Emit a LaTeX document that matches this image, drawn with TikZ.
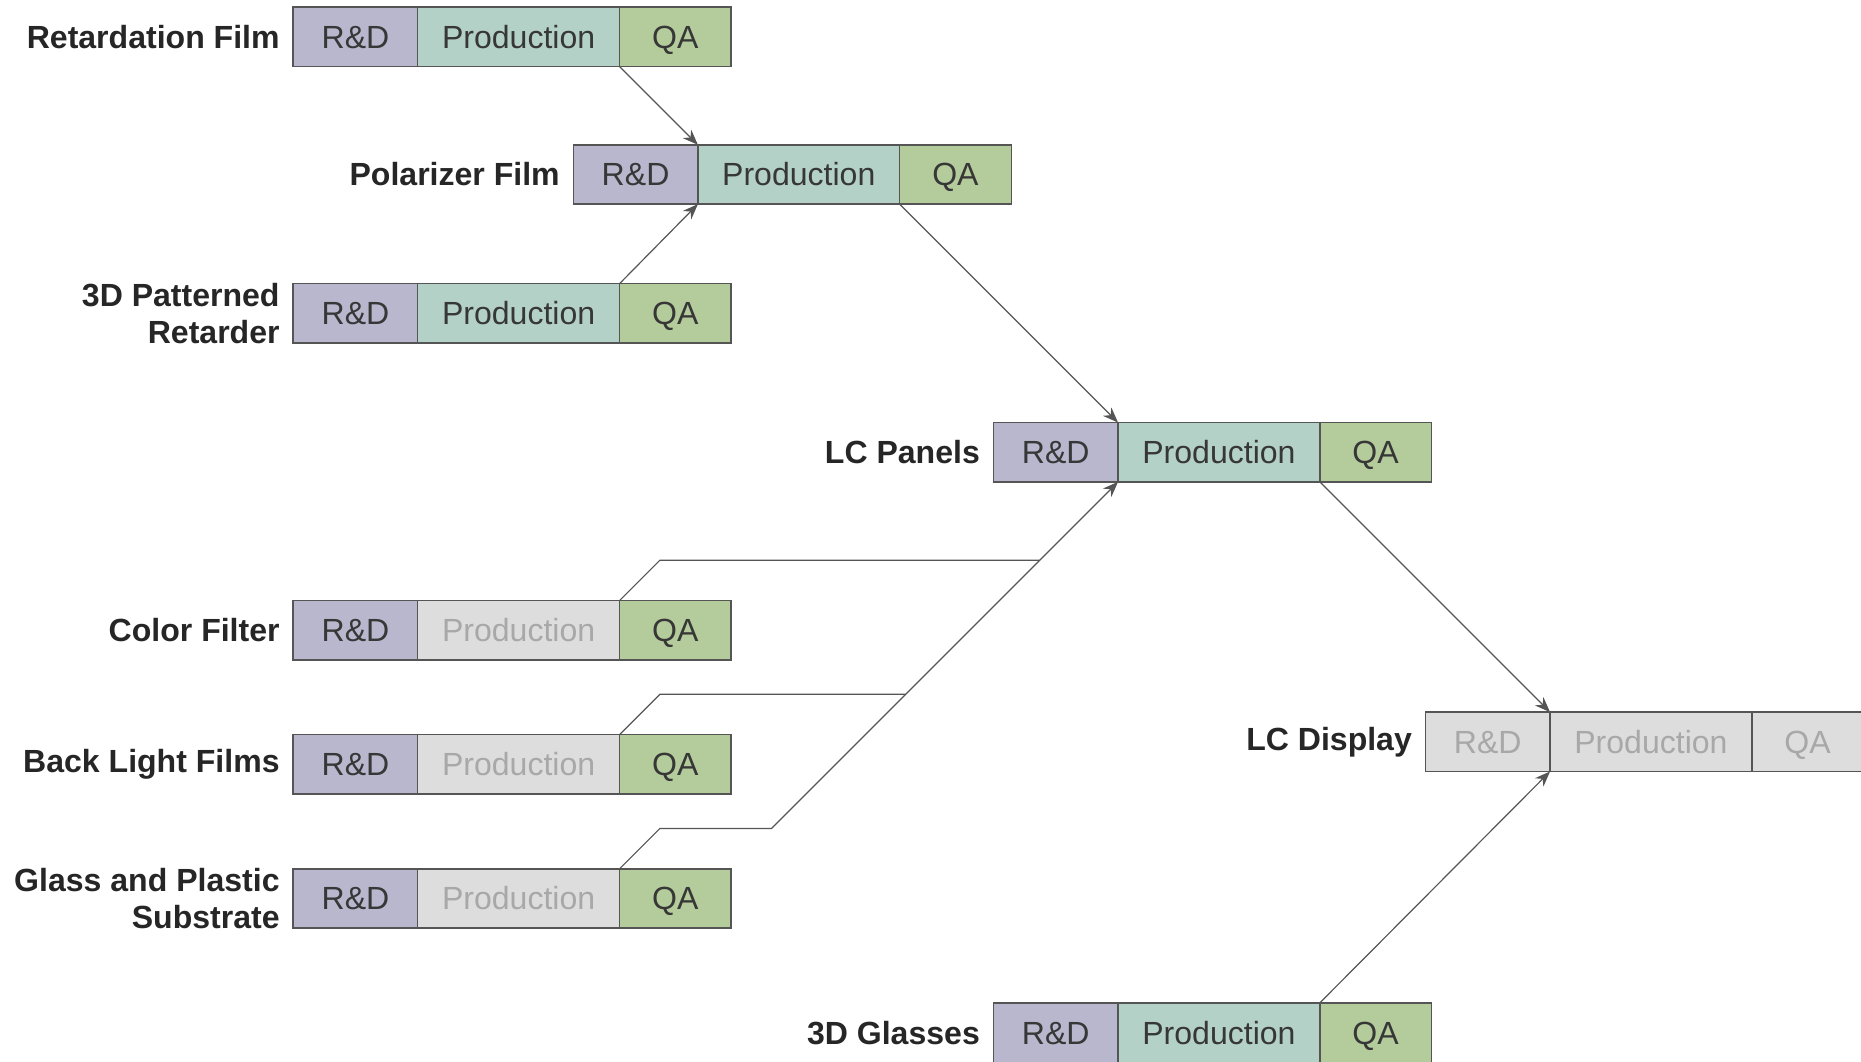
\documentclass[tikz,border=0pt]{standalone}
\usepackage{fontspec}
\setmainfont{Liberation Sans}
\usetikzlibrary{positioning,arrows.meta}

\definecolor{rdfill}{RGB}{185,183,205}
\definecolor{prodfill}{RGB}{180,209,199}
\definecolor{qafill}{RGB}{180,204,155}
\definecolor{offfill}{RGB}{221,221,221}
\definecolor{offtext}{RGB}{168,168,168}
\definecolor{edge}{RGB}{85,85,85}
\definecolor{ink}{RGB}{55,55,55}

\begin{document}
\begin{tikzpicture}[x=0.5pt,y=-0.5pt,
    cell/.style={draw=edge,line width=0.6pt,minimum height=25pt,inner sep=0pt,outer sep=0pt,
      text height=9.7pt,text depth=0pt,text=ink,font=\fontsize{13.5}{16}\selectfont},
    rd/.style={cell,fill=rdfill,minimum width=52.5pt,anchor=west},
    prod/.style={cell,fill=prodfill,minimum width=85pt,anchor=west},
    qa/.style={cell,fill=qafill,minimum width=47pt,anchor=west},
    off/.style={fill=offfill,text=offtext},
    stage/.style={anchor=east,align=right,inner sep=0pt,text=black!85,
      font=\bfseries\fontsize{13.5}{15.5}\selectfont},
    flow/.style={draw=edge,line width=0.5pt},
    feed/.style={flow,-{Stealth[length=6.5pt,width=5pt]}}]
    \clip (0,0) rectangle (1568,894);

    % Supply chain stages
    \foreach \id/\x/\y/\p/\name in {
        rf/247/31/prod/{Retardation Film},
        pf/483/147/prod/{Polarizer Film},
        pr/247/264/prod/{3D Patterned\\Retarder},
        lp/837/381/prod/{LC Panels},
        cf/247/531/off/{Color Filter},
        bl/247/644/off/{Back Light Films},
        gp/247/757/off/{Glass and Plastic\\Substrate},
        gl/837/870/prod/{3D Glasses}}
    {
        \node[rd] (\id-rd) at (\x,\y) {R\&D};
        \node[prod,\p,right=0pt of \id-rd] (\id-prod) {Production};
        \node[qa,right=0pt of \id-prod] (\id-qa) {QA};
        \node[stage,left=5.5pt of \id-rd] (\id-name) {\name};
    }

    % Final product
    \node[rd,off] (ld-rd) at (1201,625) {R\&D};
    \node[prod,off,right=0pt of ld-rd] (ld-prod) {Production};
    \node[qa,off,right=0pt of ld-prod] (ld-qa) {QA};
    \node[stage,left=5.5pt of ld-rd] (ld-name) {LC Display};

    % Joints on the substrate line
    \coordinate (cf-join) at (876,472);
    \coordinate (bl-join) at (763,585);
    \coordinate (gp-join) at (650,698);

    % Flows
    \draw[feed] (rf-prod.south east) -- (pf-rd.north east);
    \draw[feed] (pr-prod.north east) -- (pf-rd.south east);
    \draw[feed] (pf-prod.south east) -- (lp-rd.north east);
    \draw[flow] (cf-prod.north east) -- ++(34,-34) -- (cf-join);
    \draw[flow] (bl-prod.north east) -- ++(34,-34) -- (bl-join);
    \draw[feed] (gp-prod.north east) -- ++(34,-34) -- (gp-join) -- (lp-rd.south east);
    \draw[feed] (lp-prod.south east) -- (ld-rd.north east);
    \draw[feed] (gl-prod.north east) -- (ld-rd.south east);
\end{tikzpicture}
\end{document}
